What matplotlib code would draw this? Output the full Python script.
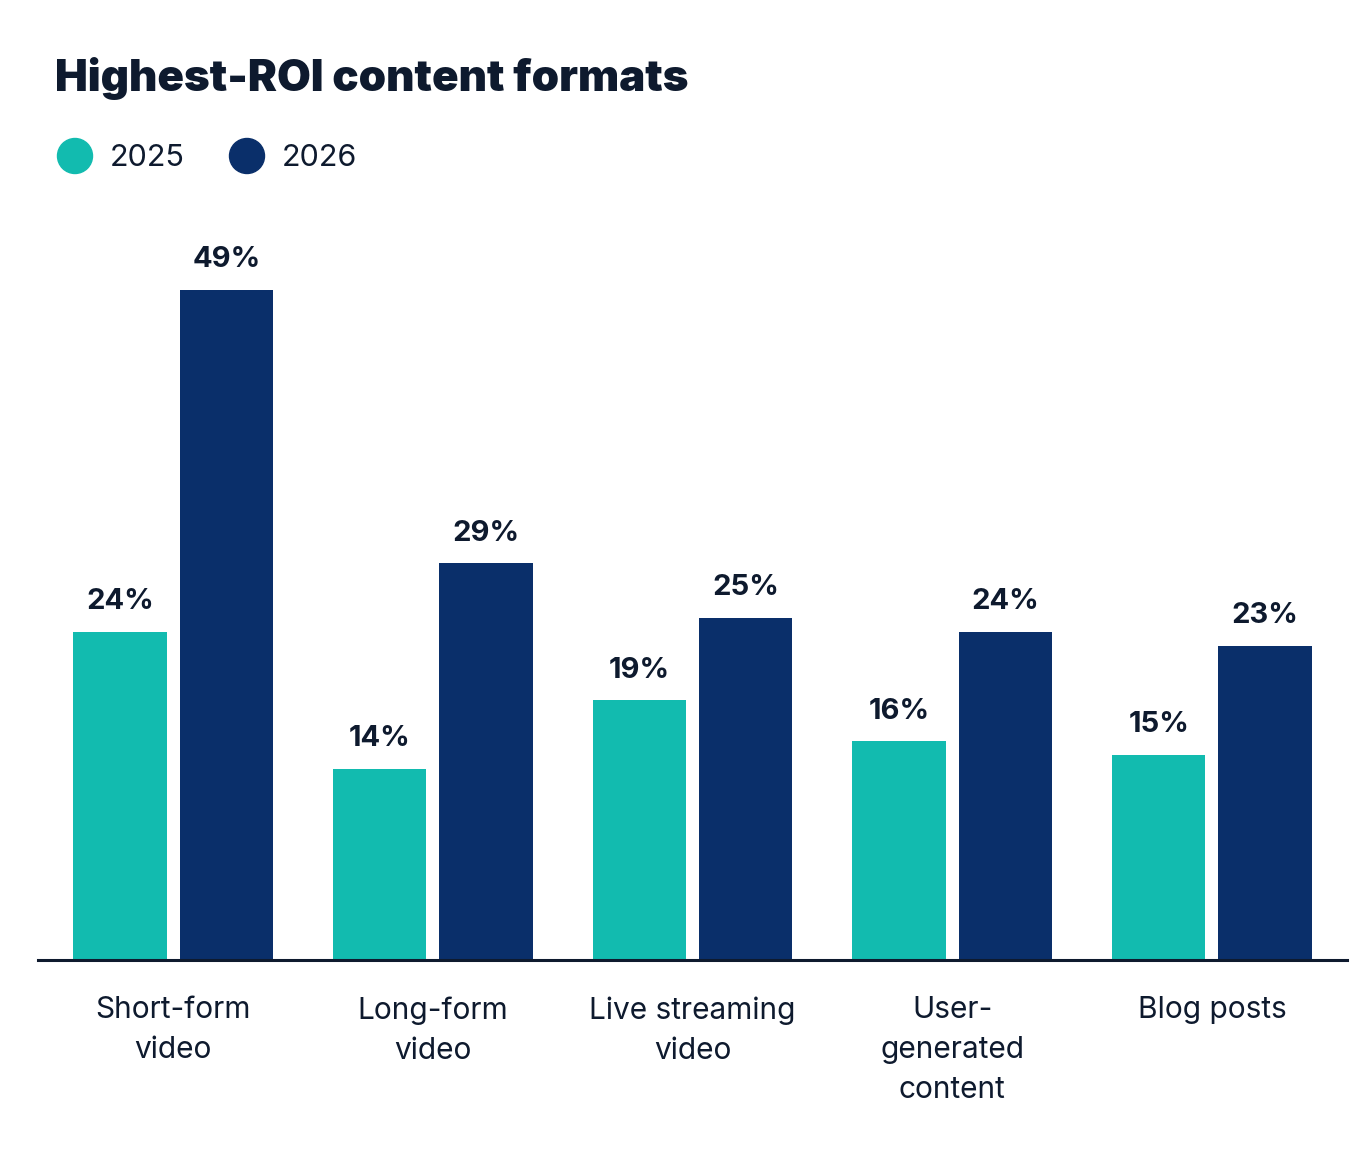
import numpy as np
import matplotlib.pyplot as plt
from matplotlib.patches import Ellipse

categories = ["Short-form\nvideo", "Long-form\nvideo", "Live streaming\nvideo",
              "User-\ngenerated\ncontent", "Blog posts"]
vals_2025 = [24, 14, 19, 16, 15]
vals_2026 = [49, 29, 25, 24, 23]
years = ["2025", "2026"]

teal = '#12BBAF'
navy = '#0A2F6A'
ink = '#0E1A2E'

plt.rcParams['font.family'] = ['Inter', 'DejaVu Sans']

fig = plt.figure(figsize=(13.69, 11.49), dpi=100)
W, H = 1369, 1149
# axes: left 38px, right 1347px, baseline at 960px, top chosen so 49% lands near 290px
ax = fig.add_axes([38 / W, 1 - 960 / H, (1347 - 38) / W, (960 - 200) / H])

x = np.arange(len(categories))
w = 0.36
off = 0.205
b1 = ax.bar(x - off, vals_2025, w, color=teal)
b2 = ax.bar(x + off, vals_2026, w, color=navy)

for bars, vals in ((b1, vals_2025), (b2, vals_2026)):
    for r, v in zip(bars, vals):
        ax.annotate(f'{v}%', (r.get_x() + r.get_width() / 2, v),
                    xytext=(0, 12), textcoords='offset points',
                    ha='center', va='bottom', fontsize=21, fontweight='bold', color=ink)

ax.set_xlim(-0.52, 4.52)
ax.set_ylim(0, 49 * 760 / 670)
for s in ['top', 'right', 'left']:
    ax.spines[s].set_visible(False)
ax.spines['bottom'].set_color(ink)
ax.spines['bottom'].set_linewidth(2.2)
ax.set_yticks([])
ax.set_xticks(x)
ax.set_xticklabels(categories, fontsize=21.5, color=ink, linespacing=1.55, va='top')
ax.tick_params(axis='x', length=0, pad=26)

fig.text(55 / W, 1 - 78 / H, "Highest-ROI content formats", fontsize=31.5,
         fontweight='black', color=ink, va='center', ha='left')

# legend
for cx, tx, col, lab in ((75, 110, teal, years[0]), (247, 282, navy, years[1])):
    fig.patches.append(Ellipse((cx / W, 1 - 156 / H), 35 / W, 35 / H,
                               transform=fig.transFigure, color=col))
    fig.text(tx / W, 1 - 158 / H, lab, fontsize=22, color=ink, va='center', ha='left')

fig.savefig('out.png', dpi=100, facecolor='white')
